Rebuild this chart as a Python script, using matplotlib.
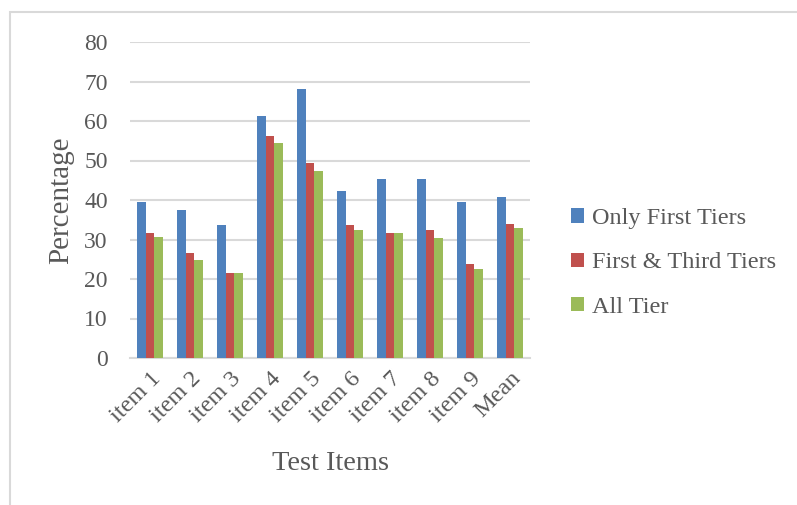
import matplotlib
matplotlib.use("Agg")
import matplotlib.pyplot as plt
from matplotlib.patches import Rectangle
import numpy as np

categories = ["item 1", "item 2", "item 3", "item 4", "item 5", "item 6", "item 7", "item 8", "item 9", "Mean"]
only_first = [39.5, 37.5, 33.6, 61.3, 68.2, 42.4, 45.4, 45.4, 39.4, 40.7]
first_third = [31.6, 26.6, 21.6, 56.3, 49.4, 33.6, 31.6, 32.5, 23.7, 34.0]
all_tier = [30.6, 24.7, 21.6, 54.4, 47.4, 32.5, 31.6, 30.5, 22.6, 32.8]
series_names = ["Only First Tiers", "First & Third Tiers", "All Tier"]
colors = ["#4f81bd", "#c0504d", "#9bbb59"]
yticks = [0, 10, 20, 30, 40, 50, 60, 70, 80]

W, H = 797, 505
fig = plt.figure(figsize=(W / 100, H / 100), dpi=100)
fig.patch.set_facecolor("white")
font = ["Liberation Serif", "DejaVu Serif"]
tc = "#595959"

# outer frame
fig.patches.append(Rectangle((10 / W, -0.1), 1.2, (H - 12) / H + 0.1, transform=fig.transFigure,
                             fill=False, edgecolor="#d9d9d9", linewidth=1.5))

ax = fig.add_axes([130 / W, 1 - 358 / H, 400 / W, (358 - 42) / H])
x = np.arange(len(categories))
bw = 0.22
for i, (vals, name, c) in enumerate(zip([only_first, first_third, all_tier], series_names, colors)):
    ax.bar(x + (i - 1) * bw, vals, bw, color=c, label=name, zorder=3)

ax.set_xlim(-0.5, len(categories) - 0.5)
ax.set_ylim(0, 80)
ax.set_yticks(yticks)
ax.set_yticklabels([str(v) for v in yticks], fontsize=17, color=tc, family=font)
ax.yaxis.grid(True, color="#d9d9d9", linewidth=1.5, zorder=0)
ax.set_axisbelow(True)
ax.tick_params(axis="y", length=0, pad=16)
ax.set_xticks(x)
ax.set_xticklabels(categories, rotation=45, ha="right", rotation_mode="anchor",
                   fontsize=17.5, color=tc, family=font)
ax.tick_params(axis="x", length=0, pad=7)
for s in ["top", "right", "left"]:
    ax.spines[s].set_visible(False)
ax.spines["bottom"].set_color("#d9d9d9")
ax.spines["bottom"].set_linewidth(1.5)

ax.set_ylabel("Percentage", fontsize=21, color=tc, family=font)
ax.yaxis.set_label_coords((74 - 130) / 400, 0.5)
fig.text(330 / W, 1 - 464 / H, "Test Items", fontsize=20.5, color=tc, family=font,
         ha="center", va="center")

leg = ax.legend(loc="center left", bbox_to_anchor=(571 / W, 1 - 263 / H), bbox_transform=fig.transFigure,
                frameon=False, prop={"family": font, "size": 17.5}, handlelength=0.55, handleheight=0.55,
                handletextpad=0.3, labelspacing=0.95, borderaxespad=0, borderpad=0)
for t in leg.get_texts():
    t.set_color(tc)

fig.savefig("out.png", dpi=100, facecolor="white")
